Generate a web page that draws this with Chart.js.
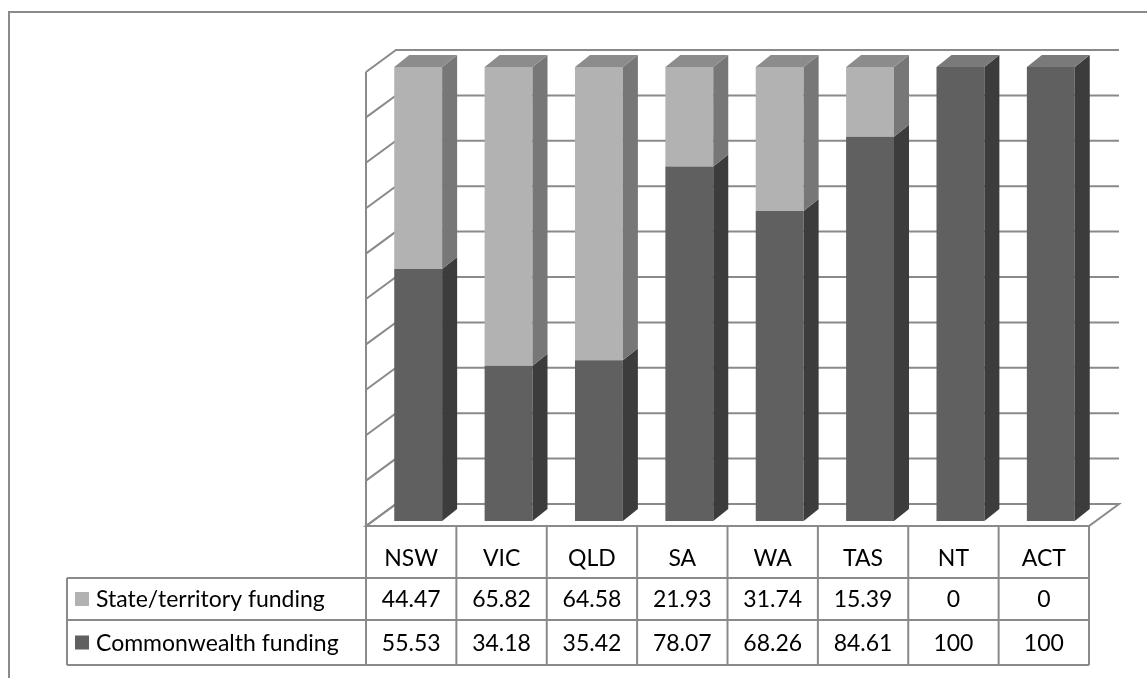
<!DOCTYPE html>
<html>
<head>
<meta charset="utf-8">
<script src="https://cdn.jsdelivr.net/npm/chart.js@4/dist/chart.umd.min.js"></script>
<style>
    html, body { margin: 0; padding: 0; background: #fff; }
    #wrap { position: relative; width: 1147px; height: 678px; }
</style>
</head>
<body>
<div id="wrap"><canvas id="fundingChart"></canvas></div>
<script>
const categories = ['NSW', 'VIC', 'QLD', 'SA', 'WA', 'TAS', 'NT', 'ACT'];
const stateFunding = [44.47, 65.82, 64.58, 21.93, 31.74, 15.39, 0, 0];
const commonwealthFunding = [55.53, 34.18, 35.42, 78.07, 68.26, 84.61, 100, 100];
const yTicks = [0, 10, 20, 30, 40, 50, 60, 70, 80, 90, 100];

const seriesNames = ['State/territory funding', 'Commonwealth funding'];

// face colours: front, side, top
const stateShade = { front: '#b2b2b2', side: '#777777', top: '#8c8c8c' };
const commShade = { front: '#606060', side: '#3c3c3c', top: '#7a7a7a' };

const FONT = '23px Lato, "Open Sans", sans-serif';
const LINE = '#8a8a8a';

// depth of the bars, and of the walls relative to the bar front plane
const BAR_DX = 15, BAR_DY = -12;
const FRONT_DX = -7, FRONT_DY = 5;
const BACK_DX = 23, BACK_DY = -17;

const threeD = {
    id: 'threeD',
    beforeDatasetsDraw(chart) {
        const ctx = chart.ctx;
        const area = chart.chartArea;
        const y = chart.scales.y;
        ctx.save();

        // outer frame (only top and left are inside the picture)
        ctx.strokeStyle = LINE;
        ctx.lineWidth = 2;
        ctx.beginPath();
        ctx.moveTo(9, 690);
        ctx.lineTo(9, 12);
        ctx.lineTo(1160, 12);
        ctx.stroke();

        const fl = area.left + FRONT_DX, fr = area.right + FRONT_DX;
        const bl = area.left + BACK_DX, br = area.right + BACK_DX;

        // floor
        const y0 = y.getPixelForValue(0);
        ctx.beginPath();
        ctx.moveTo(fl, y0 + FRONT_DY);
        ctx.lineTo(fr, y0 + FRONT_DY);
        ctx.lineTo(br, y0 + BACK_DY);
        ctx.lineTo(bl, y0 + BACK_DY);
        ctx.closePath();
        ctx.fillStyle = '#fff';
        ctx.fill();
        ctx.stroke();

        // back wall + side wall gridlines
        yTicks.forEach(function (t) {
            const py = y.getPixelForValue(t);
            ctx.beginPath();
            ctx.moveTo(fl, py + FRONT_DY);
            ctx.lineTo(bl, py + BACK_DY);
            ctx.lineTo(br, py + BACK_DY);
            ctx.stroke();
        });

        // front edge of side wall
        ctx.beginPath();
        ctx.moveTo(fl, y.getPixelForValue(100) + FRONT_DY);
        ctx.lineTo(fl, y0 + FRONT_DY);
        ctx.stroke();
        ctx.restore();
    },
    afterDatasetsDraw(chart) {
        const ctx = chart.ctx;
        const shades = [commShade, stateShade];
        ctx.save();
        categories.forEach(function (c, i) {
            let topBar = null, topShade = null;
            chart.data.datasets.forEach(function (ds, d) {
                const bar = chart.getDatasetMeta(d).data[i];
                if (!ds.data[i]) return;
                const right = bar.x + bar.width / 2;
                ctx.beginPath();
                ctx.moveTo(right, bar.base);
                ctx.lineTo(right, bar.y);
                ctx.lineTo(right + BAR_DX, bar.y + BAR_DY);
                ctx.lineTo(right + BAR_DX, bar.base + BAR_DY);
                ctx.closePath();
                ctx.fillStyle = shades[d].side;
                ctx.fill();
                topBar = bar;
                topShade = shades[d];
            });
            if (topBar) {
                const l = topBar.x - topBar.width / 2, r = topBar.x + topBar.width / 2;
                ctx.beginPath();
                ctx.moveTo(l, topBar.y);
                ctx.lineTo(l + BAR_DX, topBar.y + BAR_DY);
                ctx.lineTo(r + BAR_DX, topBar.y + BAR_DY);
                ctx.lineTo(r, topBar.y);
                ctx.closePath();
                ctx.fillStyle = topShade.top;
                ctx.fill();
            }
        });
        ctx.restore();
    },
    afterDraw(chart) {
        // data table under the plot
        const ctx = chart.ctx;
        const area = chart.chartArea;
        const x = chart.scales.x;
        const y0 = chart.scales.y.getPixelForValue(0) + FRONT_DY;
        const colW = (area.right - area.left) / categories.length;
        const left = area.left + FRONT_DX, right = area.right + FRONT_DX;
        const hdrBottom = 578, row1Bottom = 620, row2Bottom = 665;
        const legendLeft = 67;

        ctx.save();
        ctx.strokeStyle = LINE;
        ctx.lineWidth = 2;
        // column separators
        for (let i = 0; i <= categories.length; i++) {
            const cx = left + i * colW;
            ctx.beginPath();
            ctx.moveTo(cx, y0);
            ctx.lineTo(cx, row2Bottom);
            ctx.stroke();
        }
        // row lines
        [hdrBottom, row1Bottom, row2Bottom].forEach(function (ry) {
            ctx.beginPath();
            ctx.moveTo(legendLeft, ry);
            ctx.lineTo(right, ry);
            ctx.stroke();
        });
        ctx.beginPath();
        ctx.moveTo(legendLeft, hdrBottom);
        ctx.lineTo(legendLeft, row2Bottom);
        ctx.stroke();

        ctx.font = FONT;
        ctx.fillStyle = '#000';
        ctx.textBaseline = 'middle';
        ctx.textAlign = 'center';
        const rowsY = [(hdrBottom + row1Bottom) / 2, (row1Bottom + row2Bottom) / 2];
        const rowsData = [stateFunding, commonwealthFunding];
        categories.forEach(function (c, i) {
            const cx = x.getPixelForValue(i) + FRONT_DX;
            ctx.fillText(c, cx, 559);
            rowsData.forEach(function (arr, r) {
                ctx.fillText(String(arr[i]), cx, rowsY[r] + 1);
            });
        });

        // legend keys
        ctx.textAlign = 'left';
        [stateShade, commShade].forEach(function (s, r) {
            ctx.fillStyle = s.front;
            ctx.fillRect(75, rowsY[r] - 7, 14, 14);
            ctx.fillStyle = '#000';
            ctx.fillText(seriesNames[r], 96, rowsY[r] + 1);
        });
        ctx.restore();
    }
};

var ctx = document.getElementById('fundingChart').getContext('2d');
var fundingChart = new Chart(ctx, {
    type: 'bar',
    data: {
        labels: categories,
        datasets: [{
            label: seriesNames[1],
            data: commonwealthFunding,
            backgroundColor: commShade.front
        }, {
            label: seriesNames[0],
            data: stateFunding,
            backgroundColor: stateShade.front
        }]
    },
    options: {
        responsive: true,
        maintainAspectRatio: false,
        animation: false,
        layout: {
            padding: { left: 373, right: 51, top: 67, bottom: 157 }
        },
        datasets: {
            bar: { categoryPercentage: 1, barPercentage: 0.53 }
        },
        plugins: {
            legend: { display: false },
            tooltip: { enabled: false }
        },
        scales: {
            x: { stacked: true, display: false },
            y: { stacked: true, display: false, min: 0, max: 100 }
        }
    },
    plugins: [threeD]
});
</script>
</body>
</html>
